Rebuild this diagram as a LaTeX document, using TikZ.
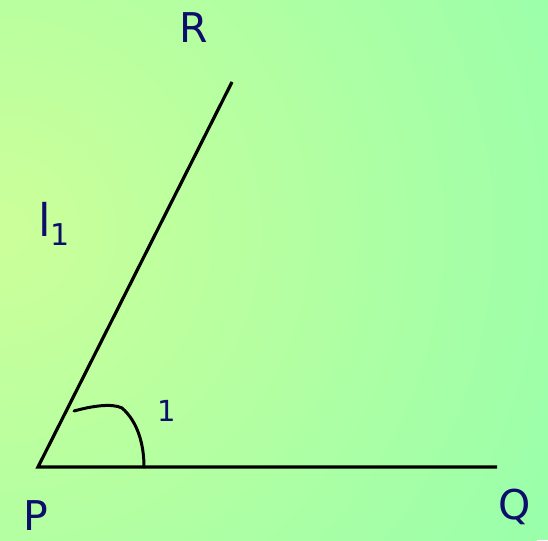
\documentclass[tikz,border=0pt]{standalone}
\usepackage{fontspec}
\setmainfont{DejaVu Sans}
\definecolor{bgyel}{HTML}{CCFF99}
\definecolor{bggrn}{HTML}{99FFAA}
\definecolor{navy}{HTML}{0D0D6B}
\begin{document}
\begin{tikzpicture}[x=1pt,y=-1pt,
  lbl/.style={text=navy,inner sep=0pt,anchor=base,font=\fontsize{41}{41}\selectfont},
  small/.style={text=navy,inner sep=0pt,anchor=base,font=\fontsize{29}{29}\selectfont},
  seg/.style={line width=3.2pt,black},
  arcline/.style={line width=3pt,black,line cap=round}]
\useasboundingbox (0,0) rectangle (548,540);
\begin{scope}
  \clip (0,0) rectangle (548,540);
  \fill[bggrn] (0,0) rectangle (548,540);
  \shade[inner color=bgyel,outer color=bggrn] (0,230) circle (620);
\end{scope}
% points
\coordinate (P0) at (38,467);
\coordinate (Qe) at (497,467);
\coordinate (Re) at (232,82);
\coordinate (A1) at (74,411);
\coordinate (A2) at (144,467);
% lines
\draw[seg] (Re) -- (P0) -- (Qe);
% angle arc (hand drawn)
\draw[arcline] (A1) .. controls (92,406) and (112,403) .. (122,408) .. controls (138,422) and (144,445) .. (A2);
% labels
\node[lbl] (R) at (194,43) {R};
\node[lbl] (P) at (35.5,530) {P};
\node[lbl] (Q) at (515,519) {Q};
\node[small] (one) at (166.5,421) {1};
\node[text=navy,inner sep=0pt,anchor=base west,font=\fontsize{45}{45}\selectfont] (l1) at (38,236) {l\raisebox{-9pt}{\fontsize{30}{30}\selectfont 1}};
\end{tikzpicture}
\end{document}
